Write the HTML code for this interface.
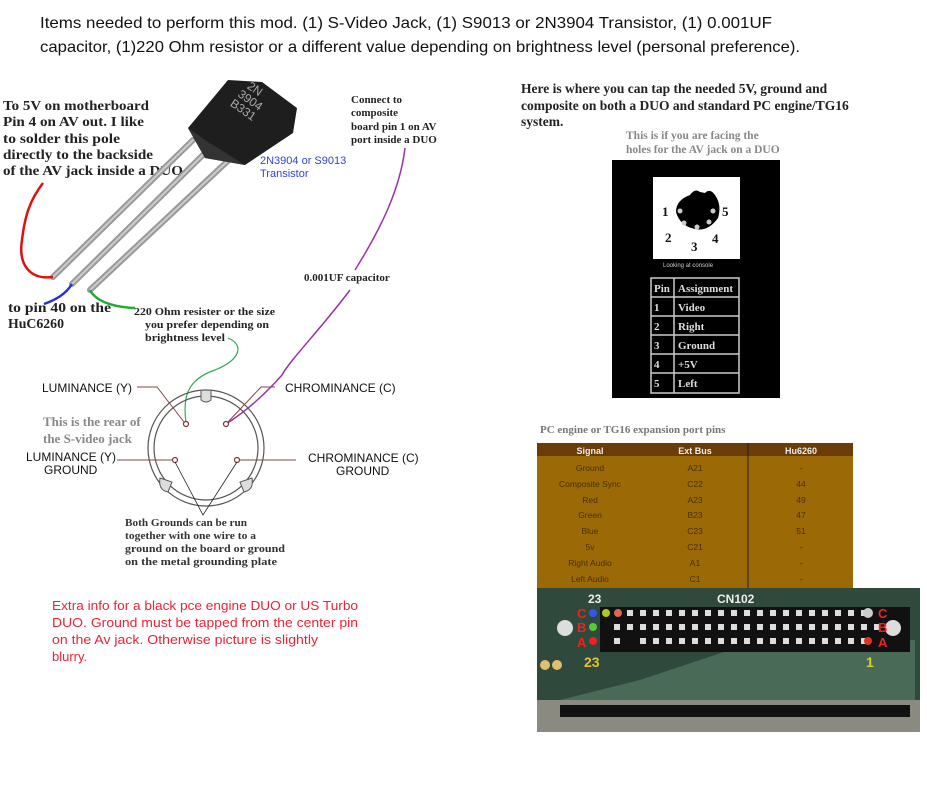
<!DOCTYPE html>
<html><head><meta charset="utf-8"><style>
html,body{margin:0;padding:0;background:#fff;}
svg{display:block}
.t{font-family:"Liberation Sans",sans-serif;}
.s{font-family:"Liberation Serif",serif;font-weight:bold;}
.a{font-family:"Liberation Sans",sans-serif;}
</style></head><body>
<svg width="927" height="800" viewBox="0 0 927 800" xmlns="http://www.w3.org/2000/svg">
<rect width="927" height="800" fill="#fff"/>
<!-- Title -->
<text class="t" x="40" y="28" font-size="16" fill="#111" textLength="732" lengthAdjust="spacingAndGlyphs">Items needed to perform this mod. (1) S-Video Jack, (1) S9013 or 2N3904 Transistor, (1) 0.001UF</text>
<text class="t" x="40" y="52" font-size="16" fill="#111" textLength="760" lengthAdjust="spacingAndGlyphs">capacitor, (1)220 Ohm resistor or a different value depending on brightness level (personal preference).</text>

<!-- Left text -->
<g class="s" font-size="14" fill="#222">
<text x="3" y="110" textLength="146" lengthAdjust="spacingAndGlyphs">To 5V on motherboard</text>
<text x="3" y="126" textLength="141" lengthAdjust="spacingAndGlyphs">Pin 4 on AV out. I like</text>
<text x="3" y="143" textLength="117" lengthAdjust="spacingAndGlyphs">to solder this pole</text>
<text x="3" y="159" textLength="150" lengthAdjust="spacingAndGlyphs">directly to the backside</text>
<text x="3" y="175" textLength="180" lengthAdjust="spacingAndGlyphs">of the AV jack inside a DUO</text>
<text x="8" y="312" textLength="103" lengthAdjust="spacingAndGlyphs">to pin 40 on the</text>
<text x="8" y="328" textLength="56" lengthAdjust="spacingAndGlyphs">HuC6260</text>
</g>
<g class="s" font-size="11" fill="#222">
<text x="351" y="103">Connect to</text>
<text x="351" y="116">composite</text>
<text x="351" y="130">board pin 1 on AV</text>
<text x="351" y="143">port inside a DUO</text>
<text x="304" y="281">0.001UF capacitor</text>
<text x="134" y="315" textLength="141" lengthAdjust="spacingAndGlyphs">220 Ohm resister or the size</text>
<text x="145" y="328" textLength="124" lengthAdjust="spacingAndGlyphs">you prefer depending on</text>
<text x="145" y="341" textLength="80" lengthAdjust="spacingAndGlyphs">brightness level</text>
</g>
<text class="a" x="260" y="164" font-size="11" fill="#3344cc">2N3904 or S9013</text>
<text class="a" x="260" y="177" font-size="11" fill="#3344cc">Transistor</text>

<!-- Transistor legs -->
<g stroke-linecap="round">
<line x1="193" y1="140" x2="53" y2="277" stroke="#999" stroke-width="6"/>
<line x1="210" y1="148" x2="72" y2="284" stroke="#999" stroke-width="6"/>
<line x1="232" y1="157" x2="90" y2="290" stroke="#999" stroke-width="6"/>
<line x1="193" y1="140" x2="53" y2="277" stroke="#ccc" stroke-width="2"/>
<line x1="210" y1="148" x2="72" y2="284" stroke="#ccc" stroke-width="2"/>
<line x1="232" y1="157" x2="90" y2="290" stroke="#ccc" stroke-width="2"/>
</g>
<path d="M188,128 L228,80 L262,82 L297,108 L293,133 L245,165 L205,158 Z" fill="#1e1e1e"/>
<path d="M188,128 L205,140 L245,165 L205,158 Z" fill="#333"/>
<g font-family="Liberation Sans,sans-serif" font-size="12" fill="#aaa" transform="rotate(35 250 100)">
<text x="240" y="92">2N</text><text x="237" y="104">3904</text><text x="236" y="116">B331</text></g>

<!-- wires -->
<path d="M43,183 C30,200 25,215 22,240 C18,265 30,280 53,277" stroke="#e01010" stroke-width="2.5" fill="none"/>
<path d="M72,284 C65,295 55,300 44,304" stroke="#2233dd" stroke-width="2.5" fill="none"/>
<path d="M90,290 C95,300 110,307 135,308" stroke="#22aa33" stroke-width="2.5" fill="none"/>
<path d="M405,148 C400,190 380,230 355,270" stroke="#9933aa" stroke-width="1.5" fill="none"/>
<path d="M350,290 C320,330 290,360 282,375 C260,400 240,415 226,424" stroke="#9933aa" stroke-width="1.5" fill="none"/>
<path d="M228,338 C245,345 240,360 215,370 C185,380 183,400 186,423" stroke="#33aa55" stroke-width="1.2" fill="none"/>

<!-- S-video jack -->
<circle cx="206" cy="448" r="58" fill="none" stroke="#555" stroke-width="1.2"/>
<circle cx="206" cy="448" r="52" fill="none" stroke="#555" stroke-width="1.2"/>
<path d="M201,391 L201,400 Q206,404 211,400 L211,391" fill="#ddd" stroke="#555"/>
<path d="M160,478 Q158,490 168,492 L172,482 Z" fill="#ddd" stroke="#555"/>
<path d="M252,478 Q254,490 244,492 L240,482 Z" fill="#ddd" stroke="#555"/>
<g fill="#fff" stroke="#733" stroke-width="1.2">
<circle cx="186" cy="424" r="2.5"/><circle cx="226" cy="424" r="2.5"/>
<circle cx="175" cy="460" r="2.5"/><circle cx="237" cy="460" r="2.5"/></g>
<g stroke="#844" stroke-width="1" fill="none">
<polyline points="137,387 157,387 184,422"/>
<polyline points="275,387 261,387 228,422"/>
<line x1="117" y1="460" x2="173" y2="460"/>
<line x1="239" y1="460" x2="296" y2="460"/>
</g>
<g stroke="#222" stroke-width="0.8" fill="none">
<polyline points="175,462 203,515 237,462"/>
</g>
<g class="a" font-size="12" fill="#111">
<text x="42" y="392">LUMINANCE (Y)</text>
<text x="285" y="392">CHROMINANCE (C)</text>
<text x="26" y="461">LUMINANCE (Y)</text>
<text x="44" y="474">GROUND</text>
<text x="308" y="462">CHROMINANCE (C)</text>
<text x="336" y="475">GROUND</text>
</g>
<g class="s" font-size="13" fill="#888">
<text x="43" y="426">This is the rear of</text>
<text x="43" y="443">the S-video jack</text>
</g>
<g class="s" font-size="10.5" fill="#333">
<text x="125" y="526" textLength="122" lengthAdjust="spacingAndGlyphs">Both Grounds can be run</text>
<text x="125" y="539" textLength="131" lengthAdjust="spacingAndGlyphs">together with one wire to a</text>
<text x="125" y="552" textLength="160" lengthAdjust="spacingAndGlyphs">ground on the board or ground</text>
<text x="125" y="565" textLength="152" lengthAdjust="spacingAndGlyphs">on the metal grounding plate</text>
</g>
<g class="a" font-size="13" fill="#ee2233">
<text x="52" y="610" textLength="306" lengthAdjust="spacingAndGlyphs">Extra info for a black pce engine DUO or US Turbo</text>
<text x="52" y="627" textLength="306" lengthAdjust="spacingAndGlyphs">DUO. Ground must be tapped from the center pin</text>
<text x="52" y="644" textLength="266" lengthAdjust="spacingAndGlyphs">on the Av jack. Otherwise picture is slightly</text>
<text x="52" y="661">blurry.</text>
</g>

<!-- Right top -->
<g class="s" font-size="13.5" fill="#222">
<text x="521" y="93">Here is where you can tap the needed 5V, ground and</text>
<text x="521" y="110">composite on both a DUO and standard PC engine/TG16</text>
<text x="521" y="126">system.</text>
</g>
<g class="s" font-size="11.5" fill="#888">
<text x="626" y="139">This is if you are facing the</text>
<text x="626" y="153">holes for the AV jack on a DUO</text>
</g>
<rect x="612" y="160" width="168" height="238" fill="#000"/>
<rect x="653" y="177" width="87" height="82" fill="#fff"/>
<path d="M690,195 Q695,188 700,192 L705,193 Q710,188 715,195 Q722,205 718,218 Q708,232 695,229 Q680,226 676,212 Q676,200 690,195 Z" fill="#000"/>
<g fill="#ccc"><circle cx="680" cy="211" r="2.5"/><circle cx="713" cy="211" r="2.5"/><circle cx="684" cy="223" r="2.5"/><circle cx="697" cy="227" r="2.5"/><circle cx="709" cy="222" r="2.5"/></g>
<g class="s" font-size="13" fill="#111" font-weight="normal">
<text x="662" y="216">1</text><text x="722" y="216">5</text>
<text x="665" y="242">2</text><text x="712" y="243">4</text><text x="691" y="251">3</text></g>
<text class="a" x="663" y="267" font-size="6" fill="#ccc">Looking at console</text>
<g stroke="#ccc" stroke-width="1.5" fill="none">
<rect x="651" y="278" width="88" height="115"/>
<line x1="651" y1="297" x2="739" y2="297"/><line x1="651" y1="316" x2="739" y2="316"/>
<line x1="651" y1="335" x2="739" y2="335"/><line x1="651" y1="354" x2="739" y2="354"/>
<line x1="651" y1="373" x2="739" y2="373"/><line x1="674" y1="278" x2="674" y2="393"/>
</g>
<g class="s" font-size="11" fill="#ddd" font-weight="normal">
<text x="654" y="292">Pin</text><text x="678" y="292">Assignment</text>
<text x="654" y="311">1</text><text x="678" y="311">Video</text>
<text x="654" y="330">2</text><text x="678" y="330">Right</text>
<text x="654" y="349">3</text><text x="678" y="349">Ground</text>
<text x="654" y="368">4</text><text x="678" y="368">+5V</text>
<text x="654" y="387">5</text><text x="678" y="387">Left</text>
</g>

<!-- Expansion port table -->
<text class="s" x="540" y="433" font-size="11" fill="#777" font-weight="normal">PC engine or TG16 expansion port pins</text>
<rect x="537" y="443" width="316" height="145" fill="#9b6a06"/>
<rect x="537" y="443" width="316" height="13" fill="#6a3c08"/>
<line x1="748" y1="443" x2="748" y2="588" stroke="#222" stroke-width="1"/>
<g class="a" font-size="9" fill="#eee" font-weight="bold" text-anchor="middle">
<text x="590" y="454">Signal</text><text x="695" y="454">Ext Bus</text><text x="801" y="454">Hu6260</text></g>
<g class="a" font-size="8.5" fill="#4a3000" text-anchor="middle">
<text x="590" y="471">Ground</text><text x="695" y="471">A21</text><text x="801" y="471">-</text>
<text x="590" y="487">Composite Sync</text><text x="695" y="487">C22</text><text x="801" y="487">44</text>
<text x="590" y="503">Red</text><text x="695" y="503">A23</text><text x="801" y="503">49</text>
<text x="590" y="518">Green</text><text x="695" y="518">B23</text><text x="801" y="518">47</text>
<text x="590" y="534">Blue</text><text x="695" y="534">C23</text><text x="801" y="534">51</text>
<text x="590" y="550">5v</text><text x="695" y="550">C21</text><text x="801" y="550">-</text>
<text x="590" y="566">Right Audio</text><text x="695" y="566">A1</text><text x="801" y="566">-</text>
<text x="590" y="582">Left Audio</text><text x="695" y="582">C1</text><text x="801" y="582">-</text>
</g>

<!-- PCB -->
<rect x="537" y="588" width="383" height="112" fill="#2f4a3c"/>
<rect x="537" y="700" width="383" height="32" fill="#8a8a80"/>
<rect x="560" y="705" width="350" height="12" fill="#111"/>
<path d="M640,680 L760,640 L915,640 L915,700 L560,700 Z" fill="#4a6a58"/>
<rect x="600" y="607" width="310" height="45" fill="#111"/>
<g fill="#ddd">
<rect x="627" y="610" width="6" height="6"/><rect x="640" y="610" width="6" height="6"/><rect x="653" y="610" width="6" height="6"/><rect x="666" y="610" width="6" height="6"/><rect x="679" y="610" width="6" height="6"/><rect x="692" y="610" width="6" height="6"/><rect x="705" y="610" width="6" height="6"/><rect x="718" y="610" width="6" height="6"/><rect x="731" y="610" width="6" height="6"/><rect x="744" y="610" width="6" height="6"/><rect x="757" y="610" width="6" height="6"/><rect x="770" y="610" width="6" height="6"/><rect x="783" y="610" width="6" height="6"/><rect x="796" y="610" width="6" height="6"/><rect x="809" y="610" width="6" height="6"/><rect x="822" y="610" width="6" height="6"/><rect x="835" y="610" width="6" height="6"/><rect x="848" y="610" width="6" height="6"/><rect x="861" y="610" width="6" height="6"/>
<rect x="614" y="624" width="6" height="6"/><rect x="627" y="624" width="6" height="6"/><rect x="640" y="624" width="6" height="6"/><rect x="653" y="624" width="6" height="6"/><rect x="666" y="624" width="6" height="6"/><rect x="679" y="624" width="6" height="6"/><rect x="692" y="624" width="6" height="6"/><rect x="705" y="624" width="6" height="6"/><rect x="718" y="624" width="6" height="6"/><rect x="731" y="624" width="6" height="6"/><rect x="744" y="624" width="6" height="6"/><rect x="757" y="624" width="6" height="6"/><rect x="770" y="624" width="6" height="6"/><rect x="783" y="624" width="6" height="6"/><rect x="796" y="624" width="6" height="6"/><rect x="809" y="624" width="6" height="6"/><rect x="822" y="624" width="6" height="6"/><rect x="835" y="624" width="6" height="6"/><rect x="848" y="624" width="6" height="6"/><rect x="861" y="624" width="6" height="6"/><rect x="874" y="624" width="6" height="6"/>
<rect x="614" y="638" width="6" height="6"/><rect x="640" y="638" width="6" height="6"/><rect x="653" y="638" width="6" height="6"/><rect x="666" y="638" width="6" height="6"/><rect x="679" y="638" width="6" height="6"/><rect x="692" y="638" width="6" height="6"/><rect x="705" y="638" width="6" height="6"/><rect x="718" y="638" width="6" height="6"/><rect x="731" y="638" width="6" height="6"/><rect x="744" y="638" width="6" height="6"/><rect x="757" y="638" width="6" height="6"/><rect x="770" y="638" width="6" height="6"/><rect x="783" y="638" width="6" height="6"/><rect x="796" y="638" width="6" height="6"/><rect x="809" y="638" width="6" height="6"/><rect x="822" y="638" width="6" height="6"/><rect x="835" y="638" width="6" height="6"/><rect x="848" y="638" width="6" height="6"/><rect x="861" y="638" width="6" height="6"/>
</g>
<circle cx="593" cy="613" r="4" fill="#3355ee"/><circle cx="606" cy="613" r="4" fill="#aacc22"/><circle cx="618" cy="613" r="4" fill="#dd6655"/>
<circle cx="593" cy="627" r="4" fill="#55cc33"/><circle cx="593" cy="641" r="4" fill="#ee2222"/>
<circle cx="868" cy="641" r="4" fill="#dd3322"/><circle cx="868" cy="613" r="5" fill="#ccc"/>
<circle cx="565" cy="628" r="8" fill="#ddd"/><circle cx="893" cy="628" r="8" fill="#ddd"/>
<g class="a" font-weight="bold" fill="#ee2222" font-size="13">
<text x="577" y="618">C</text><text x="577" y="632">B</text><text x="577" y="647">A</text>
<text x="878" y="618">C</text><text x="878" y="632">B</text><text x="878" y="647">A</text></g>
<g class="a" font-weight="bold" font-size="12">
<text x="588" y="603" fill="#eee">23</text><text x="717" y="603" fill="#eee">CN102</text>
<text x="584" y="667" fill="#e6c030" font-size="14">23</text><text x="866" y="667" fill="#d6d030" font-size="14">1</text></g>
<circle cx="545" cy="665" r="5" fill="#e0c070"/><circle cx="557" cy="665" r="5" fill="#e0c070"/>
</svg>
</body></html>
